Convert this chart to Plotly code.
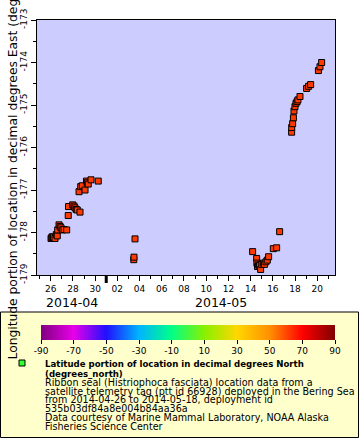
import plotly.graph_objects as go

# ---- data ----
times = [
    "2014-04-26 00:43", "2014-04-26 02:24", "2014-04-26 03:22", "2014-04-26 06:00", "2014-04-26 09:22",
    "2014-04-26 12:00", "2014-04-26 14:10", "2014-04-26 15:07", "2014-04-26 18:00", "2014-04-26 20:24",
    "2014-04-26 22:19", "2014-04-27 00:58", "2014-04-27 04:48", "2014-04-27 10:34",
    "2014-04-27 13:55", "2014-04-27 14:24", "2014-04-27 23:31", "2014-04-28 02:24", "2014-04-28 04:34",
    "2014-04-28 07:12", "2014-04-28 09:22", "2014-04-28 15:22",
    "2014-04-28 13:12", "2014-04-28 16:48", "2014-04-28 20:24", "2014-04-29 02:10", "2014-04-29 05:17",
    "2014-04-29 07:12", "2014-04-29 09:07", "2014-04-29 15:07", "2014-04-30 06:43",
    "2014-05-03 11:30", "2014-05-03 12:00", "2014-05-03 14:10",
    "2014-05-14 04:19", "2014-05-14 12:58", "2014-05-14 13:30", "2014-05-14 14:53", "2014-05-14 16:48",
    "2014-05-14 19:12", "2014-05-14 21:36", "2014-05-15 00:00", "2014-05-15 03:22", "2014-05-15 06:00",
    "2014-05-15 09:07", "2014-05-15 12:00", "2014-05-15 14:53", "2014-05-16 00:58", "2014-05-16 08:10",
    "2014-05-16 14:38",
    "2014-05-17 16:34", "2014-05-17 16:40", "2014-05-17 18:43", "2014-05-17 20:24", "2014-05-17 21:36",
    "2014-05-17 23:46", "2014-05-18 01:55", "2014-05-18 04:19", "2014-05-18 06:14", "2014-05-18 10:34",
    "2014-05-19 00:58", "2014-05-19 05:17", "2014-05-19 09:36",
    "2014-05-20 02:24", "2014-05-20 05:46", "2014-05-20 09:22",
]
longitude = [
    -178.14, -178.12, -178.10, -178.11, -178.14,
    -178.05, -178.08, -177.94, -177.82, -177.86,
    -177.89, -177.94, -177.93, -177.94,
    -177.60, -177.39, -177.35, -177.38, -177.42,
    -177.46, -177.47, -177.52,
    -177.04, -176.92, -176.90, -177.00, -176.79,
    -176.83, -176.86, -176.76, -176.79,
    -178.64, -178.58, -178.15,
    -178.45, -178.61, -178.72, -178.80, -178.76,
    -178.78, -178.87, -178.75, -178.72, -178.75,
    -178.69, -178.65, -178.57, -178.38, -178.36,
    -177.98,
    -175.64, -175.53, -175.44, -175.30, -175.14,
    -175.04, -174.96, -174.92, -174.88, -174.80,
    -174.61, -174.56, -174.52,
    -174.19, -174.10, -174.00,
]
latitude = [62.0] * len(times)

cbar_ticks = [-90, -70, -50, -30, -10, 10, 30, 50, 70, 90]
cbar_ticktext = ["-90", "-70", "-50", "-30", "-10", "10", "30", "50", "70", "90"]
y_ticks = [-179, -178, -177, -176, -175, -174, -173]
y_ticktext = ["-179", "-178", "-177", "-176", "-175", "-174", "-173"]
x_range = ["2014-04-24 18:25", "2014-05-21 14:15"]
y_range = [-179, -173]
month_labels = ["2014-04", "2014-05"]
month_label_pos = ["2014-04-27 21:00", "2014-05-11 07:00"]
month_boundary = "2014-05-01"

legend_title = ["Latitude portion of location in decimal degrees North", "(degrees_north)"]
legend_lines = [
    "Ribbon seal (Histriophoca fasciata) location data from a",
    "satellite telemetry tag (ptt id 66928) deployed in the Bering Sea",
    "from 2014-04-26 to 2014-05-18, deployment id",
    "535b03df84a8e004b84aa36a",
    "Data courtesy of Marine Mammal Laboratory, NOAA Alaska",
    "Fisheries Science Center",
]
y_title = "Longitude portion of location in decimal degrees East (degrees_east)"

colorscale = [
    [0.0, "#800080"], [0.111, "#e800e8"], [0.222, "#2010ff"], [0.333, "#00b4ff"],
    [0.444, "#00ff88"], [0.556, "#88f000"], [0.667, "#ffd700"], [0.778, "#ff9000"],
    [0.889, "#ff0000"], [1.0, "#800000"],
]

FONT = "DejaVu Sans"
W, H = 360, 440
L, R, T, B = 37, 25, 20, 165
PW, PH = W - L - R, H - T - B

def px(x):
    return (x - L) / PW

def py(y):
    return (H - B - y) / PH

fig = go.Figure()
fig.add_trace(go.Scatter(
    x=times, y=longitude, mode="markers",
    marker=dict(symbol="square", size=6, color=latitude, cmin=-90, cmax=90,
                colorscale=colorscale, line=dict(color="black", width=1),
                showscale=True,
                colorbar=dict(orientation="h", lenmode="pixels", len=294, thickness=15,
                              x=px(188), xanchor="center", y=py(325), yanchor="top",
                              xpad=0, ypad=0, outlinewidth=0,
                              tickvals=cbar_ticks, ticktext=cbar_ticktext,
                              ticks="outside", ticklen=4, tickcolor="black",
                              tickfont=dict(family=FONT, size=9, color="black"))),
    showlegend=False, hoverinfo="x+y",
))

fig.update_layout(
    template="none",
    width=W, height=H, margin=dict(l=L, r=R, t=T, b=B, autoexpand=False),
    paper_bgcolor="white", plot_bgcolor="#ccccff",
    font=dict(family=FONT, size=9, color="black"),
    xaxis=dict(type="date", range=x_range, tick0="2014-04-26", dtick=2 * 86400000,
               tickformat="%d", ticks="outside", ticklen=5, tickcolor="black",
               showgrid=False, zeroline=False, showline=True, linecolor="black",
               linewidth=1, mirror=True, automargin=False,
               minor=dict(dtick=86400000, ticks="outside", ticklen=3, tickcolor="black",
                          showgrid=False),
               tickfont=dict(family=FONT, size=9)),
    yaxis=dict(range=y_range, tickvals=y_ticks, ticktext=y_ticktext, tickangle=-90,
               ticks="outside", ticklen=5, automargin=False,
               tickcolor="black", showgrid=False, zeroline=False, showline=True,
               linecolor="black", linewidth=1, mirror=True,
               minor=dict(dtick=0.5, ticks="outside", ticklen=3, tickcolor="black",
                          showgrid=False),
               tickfont=dict(family=FONT, size=9)),
)

# legend box
fig.add_shape(type="rect", xref="paper", yref="paper",
              x0=px(0.5), x1=px(358.5), y0=py(437.5), y1=py(312),
              fillcolor="#ffffcc", line=dict(color="black", width=1), layer="below")

# month boundary marker
fig.add_shape(type="rect", xref="x", yref="paper", xsizemode="pixel", ysizemode="pixel",
              xanchor=month_boundary, yanchor=0, x0=-1.5, x1=1.5, y0=0, y1=-8,
              fillcolor="black", line=dict(width=0))

for lab, pos in zip(month_labels, month_label_pos):
    fig.add_annotation(x=pos, xref="x", y=py(302), yref="paper", text=lab,
                       showarrow=False, xanchor="center", yanchor="middle",
                       font=dict(family=FONT, size=12.5))

# y title
fig.add_annotation(x=px(12), xref="paper", y=0.5, yref="paper", text=y_title,
                   textangle=-90, showarrow=False, xanchor="center", yanchor="middle",
                   font=dict(family=FONT, size=12.3))

# legend marker
fig.add_shape(type="rect", xref="paper", yref="paper",
              x0=px(19), x1=px(25), y0=py(366), y1=py(360),
              fillcolor="#33ff33", line=dict(color="black", width=1))

ys = [364, 373.5]
for t, yy in zip(legend_title, ys):
    fig.add_annotation(x=px(43), xref="paper", y=py(yy), yref="paper", text="<b>%s</b>" % t,
                       showarrow=False, xanchor="left", yanchor="middle",
                       font=dict(family=FONT, size=8.6))
ys2 = [382.5, 391, 399.5, 408, 417.5, 426.5]
for t, yy in zip(legend_lines, ys2):
    fig.add_annotation(x=px(43), xref="paper", y=py(yy), yref="paper", text=t,
                       showarrow=False, xanchor="left", yanchor="middle",
                       font=dict(family=FONT, size=9.6))

fig.write_html("out.html", config={"displayModeBar": False},
               post_script="document.body.style.margin='0px';")
